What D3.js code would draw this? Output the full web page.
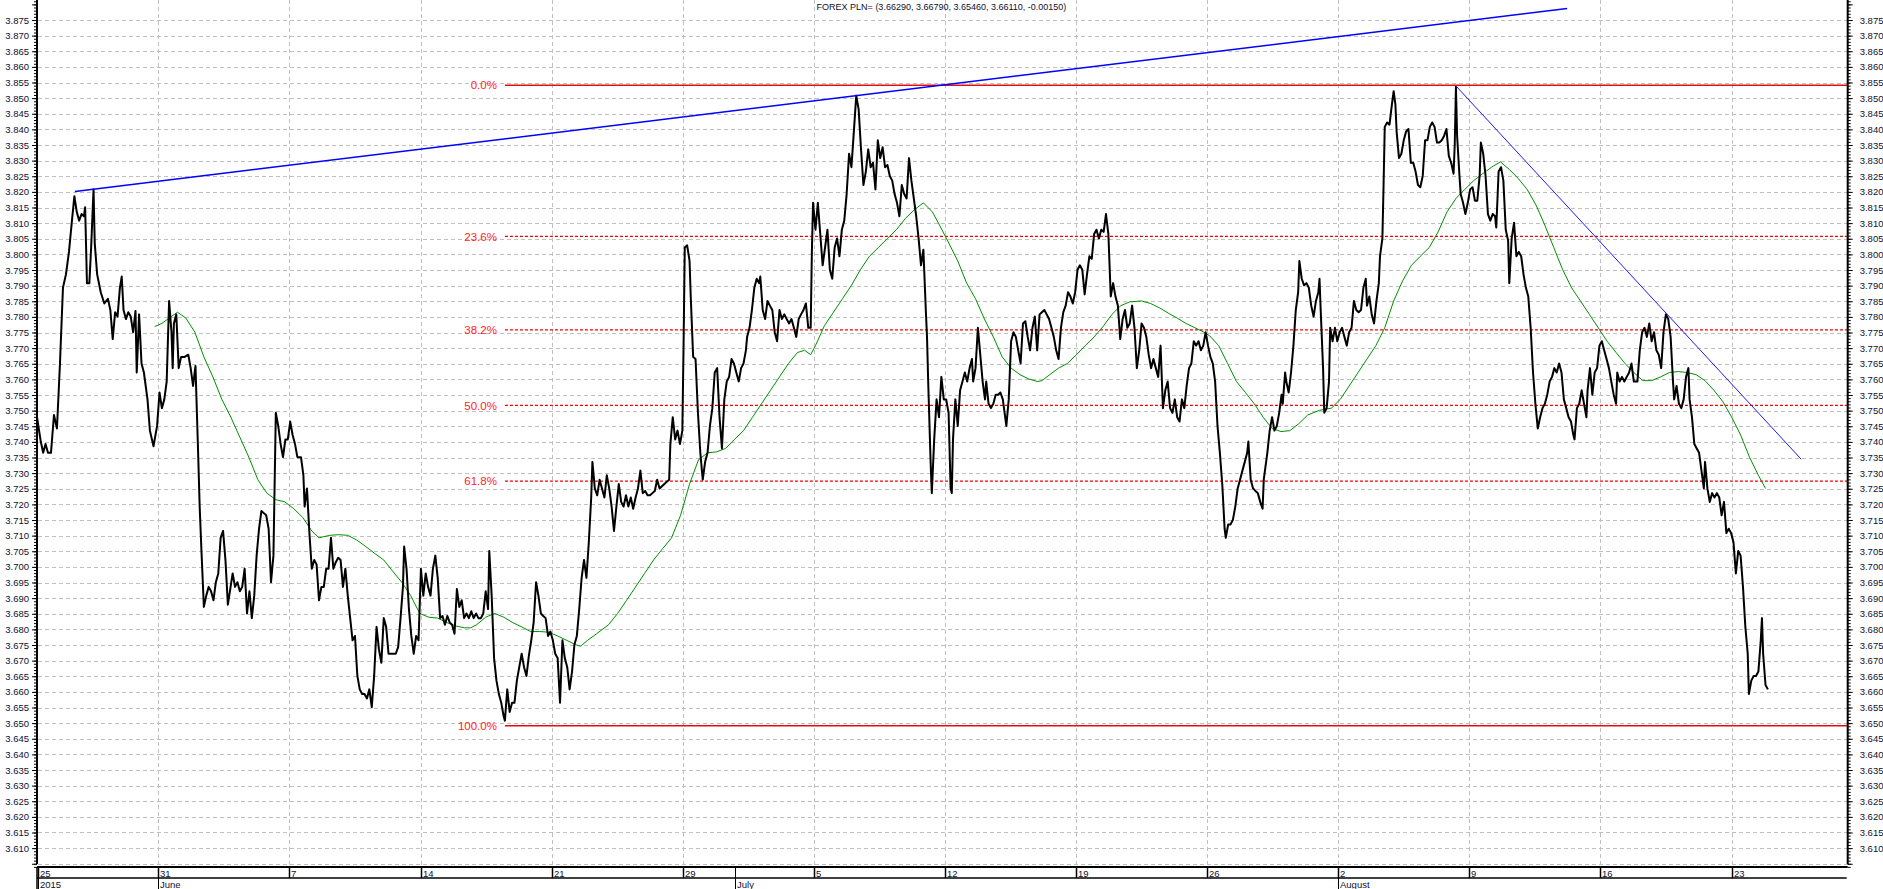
<!DOCTYPE html>
<html>
<head>
<meta charset="utf-8">
<script src="https://cdn.jsdelivr.net/npm/d3@7"></script>
<style>
  html, body { margin: 0; padding: 0; background: #fff; }
  svg { display: block; font-family: "Liberation Sans", Arial, sans-serif; }
</style>
</head>
<body>
<svg id="chart" width="1883" height="889"></svg>
<script>
'use strict';

// x is in trading days counted from Sunday 31 May 2015 (5 per week)
const title = 'FOREX PLN= (3.66290, 3.66790, 3.65460, 3.66110, -0.00150)';

const weekDays = [-4.588, 0, 5, 10, 15, 20, 25, 30, 35, 40, 45, 50, 55, 60];
const weekLabels = ['25', '31', '7', '14', '21', '29', '5', '12', '19', '26', '2', '9', '16', '23'];
const monthDays = [-4.588, 0, 21.98, 45];
const monthLabels = ['2015', 'June', 'July', 'August'];

// fibonacci retracement, drawn from the June low to the August high
const fibLow = [13.22, 3.6492];
const fibHigh = 3.8541;
const fibRatios = [0, 0.236, 0.382, 0.5, 0.618, 1];
const fibLabels = ['0.0%', '23.6%', '38.2%', '50.0%', '61.8%', '100.0%'];

// hand drawn trend lines
const trendUp = [[-3.18, 3.8201], [53.73, 3.8787]];
const trendDown = [[49.49, 3.8539], [62.65, 3.7345]];

// price (hourly close)
const price = [
  [-4.665,3.7501],[-4.482,3.7401],[-4.391,3.7365],[-4.299,3.7393],[-4.208,3.7365],[-4.093,3.7365],[-3.979,3.7486],[-3.865,3.7443],
  [-3.750,3.7651],[-3.636,3.7893],[-3.522,3.7936],[-3.407,3.8008],[-3.293,3.8108],[-3.201,3.8186],[-3.110,3.8136],[-3.019,3.8108],
  [-2.927,3.8129],[-2.836,3.8122],[-2.790,3.8151],[-2.721,3.7908],[-2.630,3.7908],[-2.561,3.8022],[-2.470,3.8208],[-2.424,3.8036],
  [-2.332,3.7936],[-2.195,3.7879],[-2.058,3.7843],[-1.921,3.7858],[-1.829,3.7822],[-1.738,3.7729],[-1.646,3.7815],[-1.555,3.7801],
  [-1.464,3.7893],[-1.395,3.7929],[-1.326,3.7822],[-1.235,3.7793],[-1.143,3.7815],[-1.052,3.7801],[-0.960,3.7751],[-0.869,3.7819],
  [-0.823,3.7622],[-0.732,3.7808],[-0.640,3.7651],[-0.549,3.7622],[-0.412,3.7536],[-0.320,3.7436],[-0.183,3.7386],[-0.046,3.7451],
  [0.046,3.7558],[0.137,3.7508],[0.229,3.7536],[0.320,3.7593],[0.412,3.7851],[0.503,3.7751],[0.549,3.7636],[0.595,3.7779],
  [0.686,3.7808],[0.778,3.7636],[0.869,3.7672],[1.006,3.7672],[1.143,3.7679],[1.235,3.7636],[1.326,3.7579],[1.418,3.7643],
  [1.509,3.7393],[1.578,3.7193],[1.646,3.7051],[1.738,3.6872],[1.829,3.6908],[1.921,3.6936],[2.012,3.6922],[2.104,3.6893],
  [2.195,3.6951],[2.287,3.6979],[2.378,3.7093],[2.470,3.7115],[2.561,3.7022],[2.653,3.6879],[2.744,3.6929],[2.836,3.6979],
  [2.927,3.6936],[3.019,3.6951],[3.110,3.6922],[3.201,3.6936],[3.293,3.6994],[3.384,3.6851],[3.476,3.6922],[3.567,3.6836],
  [3.659,3.6908],[3.750,3.7036],[3.842,3.7122],[3.933,3.7179],[4.025,3.7172],[4.116,3.7165],[4.208,3.7122],[4.299,3.6951],
  [4.391,3.7036],[4.482,3.7493],[4.574,3.7451],[4.665,3.7393],[4.756,3.7351],[4.848,3.7408],[4.939,3.7408],[5.031,3.7465],
  [5.122,3.7422],[5.214,3.7393],[5.305,3.7351],[5.442,3.7351],[5.534,3.7293],[5.580,3.7193],[5.671,3.7251],[5.763,3.7108],
  [5.854,3.6994],[5.946,3.7022],[6.037,3.7008],[6.129,3.6893],[6.220,3.6936],[6.311,3.6936],[6.403,3.6994],[6.494,3.6994],
  [6.586,3.7093],[6.677,3.6994],[6.769,3.7015],[6.860,3.7029],[6.952,3.7022],[7.043,3.6936],[7.135,3.6994],[7.226,3.6908],
  [7.318,3.6836],[7.409,3.6765],[7.501,3.6779],[7.592,3.6651],[7.683,3.6608],[7.775,3.6593],[7.866,3.6593],[7.958,3.6579],
  [8.049,3.6608],[8.141,3.6551],[8.232,3.6651],[8.324,3.6808],[8.415,3.6736],[8.507,3.6693],[8.598,3.6836],[8.690,3.6808],
  [8.781,3.6722],[8.873,3.6722],[9.056,3.6722],[9.147,3.6743],[9.239,3.6836],[9.330,3.6936],[9.376,3.7065],[9.467,3.6994],
  [9.559,3.6865],[9.650,3.6779],[9.742,3.6722],[9.833,3.6779],[9.925,3.6765],[10.016,3.6994],[10.107,3.6908],[10.199,3.6979],
  [10.290,3.6936],[10.382,3.6908],[10.473,3.6994],[10.565,3.7036],[10.656,3.6965],[10.748,3.6836],[10.839,3.6843],[10.931,3.6815],
  [11.022,3.6843],[11.114,3.6822],[11.205,3.6815],[11.297,3.6786],[11.388,3.6929],[11.480,3.6872],[11.571,3.6893],[11.663,3.6836],
  [11.754,3.6851],[11.845,3.6836],[11.937,3.6858],[12.028,3.6836],[12.120,3.6851],[12.211,3.6836],[12.303,3.6836],[12.394,3.6851],
  [12.486,3.6922],[12.577,3.6865],[12.623,3.7051],[12.714,3.6908],[12.806,3.6708],[12.897,3.6636],[12.989,3.6593],[13.080,3.6565],
  [13.172,3.6522],[13.218,3.6508],[13.309,3.6608],[13.400,3.6536],[13.492,3.6565],[13.583,3.6565],[13.675,3.6636],[13.766,3.6679],
  [13.858,3.6722],[13.949,3.6679],[14.041,3.6651],[14.132,3.6715],[14.224,3.6765],[14.315,3.6822],[14.407,3.6951],[14.498,3.6908],
  [14.590,3.6851],[14.681,3.6843],[14.772,3.6836],[14.864,3.6779],[14.955,3.6793],[15.047,3.6765],[15.138,3.6722],[15.230,3.6708],
  [15.321,3.6565],[15.413,3.6765],[15.504,3.6708],[15.596,3.6679],[15.687,3.6608],[15.779,3.6665],[15.870,3.6751],[15.962,3.6779],
  [16.053,3.6865],[16.145,3.6965],[16.236,3.7022],[16.328,3.6965],[16.419,3.7079],[16.510,3.7222],[16.556,3.7336],[16.648,3.7251],
  [16.739,3.7229],[16.831,3.7279],[16.922,3.7251],[17.014,3.7222],[17.105,3.7293],[17.197,3.7251],[17.288,3.7193],[17.379,3.7115],
  [17.471,3.7193],[17.562,3.7265],[17.654,3.7208],[17.745,3.7193],[17.837,3.7229],[17.928,3.7193],[18.020,3.7222],[18.111,3.7186],
  [18.203,3.7222],[18.294,3.7251],[18.386,3.7308],[18.477,3.7236],[18.569,3.7243],[18.660,3.7229],[18.752,3.7229],[18.843,3.7236],
  [18.935,3.7243],[19.026,3.7279],[19.117,3.7251],[19.209,3.7258],[19.300,3.7265],[19.392,3.7272],[19.483,3.7279],[19.529,3.7393],
  [19.620,3.7479],[19.712,3.7408],[19.803,3.7436],[19.895,3.7393],[19.986,3.7436],[20.032,3.7708],[20.078,3.8022],[20.169,3.8029],
  [20.261,3.7979],[20.306,3.7865],[20.398,3.7672],[20.489,3.7665],[20.581,3.7493],[20.672,3.7365],[20.764,3.7279],[20.855,3.7336],
  [20.947,3.7365],[21.038,3.7451],[21.130,3.7508],[21.221,3.7622],[21.313,3.7636],[21.404,3.7479],[21.496,3.7379],[21.587,3.7536],
  [21.679,3.7593],[21.770,3.7608],[21.862,3.7665],[21.953,3.7651],[22.044,3.7622],[22.136,3.7593],[22.227,3.7636],[22.319,3.7651],
  [22.410,3.7693],[22.456,3.7736],[22.548,3.7765],[22.639,3.7822],[22.731,3.7893],[22.822,3.7922],[22.913,3.7908],[22.959,3.7929],
  [23.051,3.7822],[23.142,3.7793],[23.234,3.7851],[23.325,3.7836],[23.417,3.7822],[23.508,3.7751],[23.600,3.7722],[23.691,3.7822],
  [23.782,3.7793],[23.874,3.7808],[23.965,3.7793],[24.057,3.7779],[24.148,3.7793],[24.240,3.7765],[24.331,3.7736],[24.423,3.7793],
  [24.514,3.7808],[24.606,3.7822],[24.697,3.7843],[24.789,3.7765],[24.880,3.7765],[24.926,3.8008],[24.971,3.8165],[25.063,3.8079],
  [25.154,3.8165],[25.246,3.8065],[25.337,3.7965],[25.429,3.8022],[25.520,3.8079],[25.612,3.7951],[25.703,3.7922],[25.795,3.8022],
  [25.886,3.8051],[25.978,3.7994],[26.069,3.8079],[26.161,3.8108],[26.252,3.8193],[26.344,3.8322],[26.435,3.8279],[26.527,3.8393],
  [26.618,3.8508],[26.709,3.8465],[26.801,3.8336],[26.892,3.8222],[26.984,3.8265],[27.075,3.8336],[27.167,3.8279],[27.258,3.8293],
  [27.350,3.8208],[27.441,3.8365],[27.533,3.8308],[27.624,3.8343],[27.716,3.8279],[27.807,3.8286],[27.898,3.8251],[27.990,3.8236],
  [28.081,3.8193],[28.173,3.8165],[28.264,3.8122],[28.356,3.8222],[28.447,3.8193],[28.539,3.8179],[28.630,3.8308],[28.722,3.8236],
  [28.813,3.8179],[28.905,3.8122],[28.996,3.8051],[29.088,3.7965],[29.179,3.8015],[29.271,3.7822],[29.317,3.7736],[29.362,3.7593],
  [29.454,3.7336],[29.500,3.7236],[29.591,3.7408],[29.682,3.7536],[29.774,3.7479],[29.865,3.7608],[29.957,3.7536],[30.048,3.7536],
  [30.140,3.7493],[30.217,3.7251],[30.262,3.7236],[30.308,3.7408],[30.398,3.7536],[30.489,3.7451],[30.579,3.7565],[30.670,3.7593],
  [30.760,3.7622],[30.850,3.7593],[30.941,3.7636],[31.031,3.7665],[31.077,3.7593],[31.167,3.7636],[31.258,3.7765],[31.348,3.7679],
  [31.439,3.7593],[31.529,3.7536],[31.574,3.7593],[31.665,3.7522],[31.755,3.7508],[31.846,3.7522],[31.936,3.7551],[32.027,3.7551],
  [32.117,3.7558],[32.208,3.7536],[32.298,3.7479],[32.343,3.7451],[32.434,3.7536],[32.524,3.7722],[32.615,3.7751],[32.705,3.7736],
  [32.796,3.7693],[32.886,3.7651],[32.977,3.7779],[33.067,3.7786],[33.158,3.7736],[33.248,3.7693],[33.339,3.7765],[33.429,3.7801],
  [33.519,3.7693],[33.610,3.7808],[33.700,3.7815],[33.791,3.7822],[33.881,3.7808],[33.972,3.7793],[34.062,3.7765],[34.153,3.7736],
  [34.243,3.7693],[34.334,3.7665],[34.424,3.7765],[34.515,3.7815],[34.605,3.7836],[34.696,3.7879],[34.786,3.7865],[34.877,3.7843],
  [34.967,3.7879],[35.058,3.7951],[35.148,3.7965],[35.239,3.7951],[35.329,3.7872],[35.419,3.7936],[35.510,3.7994],[35.600,3.7986],
  [35.691,3.8065],[35.781,3.8079],[35.872,3.8051],[35.962,3.8079],[36.053,3.8072],[36.143,3.8129],[36.234,3.8065],[36.324,3.7865],
  [36.415,3.7908],[36.505,3.7865],[36.596,3.7836],[36.686,3.7729],[36.777,3.7793],[36.867,3.7822],[36.958,3.7765],[37.048,3.7779],
  [37.139,3.7836],[37.229,3.7765],[37.319,3.7636],[37.410,3.7693],[37.500,3.7779],[37.591,3.7765],[37.681,3.7736],[37.772,3.7679],
  [37.862,3.7636],[37.953,3.7665],[38.043,3.7636],[38.134,3.7608],[38.224,3.7708],[38.315,3.7508],[38.405,3.7565],[38.496,3.7593],
  [38.586,3.7508],[38.677,3.7493],[38.767,3.7536],[38.858,3.7479],[38.948,3.7465],[39.039,3.7536],[39.129,3.7508],[39.219,3.7579],
  [39.310,3.7636],[39.400,3.7651],[39.491,3.7722],[39.581,3.7708],[39.672,3.7722],[39.762,3.7693],[39.853,3.7708],[39.943,3.7751],
  [40.034,3.7708],[40.124,3.7672],[40.215,3.7651],[40.305,3.7593],[40.396,3.7451],[40.486,3.7365],[40.577,3.7265],[40.667,3.7122],
  [40.712,3.7093],[40.803,3.7136],[40.893,3.7136],[40.984,3.7151],[41.074,3.7193],[41.165,3.7251],[41.255,3.7279],[41.346,3.7308],
  [41.436,3.7336],[41.527,3.7365],[41.572,3.7401],[41.662,3.7279],[41.753,3.7251],[41.843,3.7243],[41.934,3.7236],[42.024,3.7208],
  [42.115,3.7186],[42.160,3.7279],[42.205,3.7308],[42.296,3.7365],[42.386,3.7436],[42.477,3.7479],[42.567,3.7436],[42.658,3.7451],
  [42.748,3.7493],[42.839,3.7551],[42.884,3.7522],[42.974,3.7622],[43.019,3.7593],[43.110,3.7558],[43.200,3.7622],[43.291,3.7708],
  [43.381,3.7822],[43.472,3.7879],[43.517,3.7979],[43.608,3.7922],[43.698,3.7901],[43.789,3.7908],[43.879,3.7893],[43.970,3.7836],
  [44.060,3.7801],[44.150,3.7851],[44.241,3.7879],[44.286,3.7922],[44.331,3.7822],[44.422,3.7636],[44.467,3.7493],[44.558,3.7508],
  [44.648,3.7593],[44.693,3.7765],[44.784,3.7722],[44.874,3.7765],[44.965,3.7722],[45.055,3.7751],[45.146,3.7765],[45.236,3.7736],
  [45.327,3.7708],[45.417,3.7751],[45.508,3.7765],[45.598,3.7851],[45.689,3.7822],[45.779,3.7815],[45.869,3.7822],[45.960,3.7893],
  [46.050,3.7922],[46.096,3.7836],[46.186,3.7865],[46.277,3.7808],[46.367,3.7779],[46.458,3.7851],[46.548,3.7908],[46.593,3.7994],
  [46.684,3.8051],[46.729,3.8222],[46.774,3.8408],[46.865,3.8422],[46.955,3.8415],[47.046,3.8479],[47.114,3.8522],[47.181,3.8479],
  [47.227,3.8393],[47.317,3.8308],[47.408,3.8322],[47.498,3.8365],[47.588,3.8393],[47.679,3.8401],[47.769,3.8293],[47.860,3.8293],
  [47.950,3.8265],[48.041,3.8222],[48.131,3.8215],[48.222,3.8251],[48.312,3.8365],[48.403,3.8365],[48.493,3.8408],[48.584,3.8422],
  [48.674,3.8408],[48.765,3.8358],[48.855,3.8358],[48.946,3.8365],[49.036,3.8379],[49.127,3.8401],[49.217,3.8315],[49.308,3.8293],
  [49.398,3.8258],[49.443,3.8351],[49.489,3.8536],[49.534,3.8379],[49.624,3.8251],[49.670,3.8193],[49.760,3.8165],[49.850,3.8129],
  [49.941,3.8165],[50.031,3.8208],[50.122,3.8215],[50.212,3.8172],[50.303,3.8172],[50.393,3.8251],[50.439,3.8358],[50.529,3.8322],
  [50.619,3.8251],[50.710,3.8129],[50.800,3.8108],[50.891,3.8129],[50.981,3.8122],[51.027,3.8086],[51.117,3.8265],[51.208,3.8279],
  [51.298,3.8236],[51.389,3.8079],[51.479,3.8044],[51.524,3.7908],[51.615,3.8051],[51.705,3.8101],[51.796,3.7994],[51.886,3.8008],
  [51.977,3.7994],[52.067,3.7936],[52.158,3.7893],[52.248,3.7865],[52.339,3.7765],[52.429,3.7622],[52.519,3.7522],[52.610,3.7443],
  [52.700,3.7479],[52.791,3.7508],[52.881,3.7522],[52.972,3.7551],[53.062,3.7593],[53.153,3.7608],[53.243,3.7636],[53.334,3.7622],
  [53.424,3.7651],[53.515,3.7622],[53.605,3.7536],[53.696,3.7508],[53.786,3.7479],[53.877,3.7465],[53.967,3.7422],[54.012,3.7408],
  [54.103,3.7508],[54.193,3.7522],[54.284,3.7565],[54.374,3.7522],[54.465,3.7479],[54.510,3.7565],[54.600,3.7636],[54.691,3.7551],
  [54.781,3.7622],[54.872,3.7636],[54.962,3.7708],[55.053,3.7722],[55.143,3.7693],[55.234,3.7665],[55.324,3.7636],[55.415,3.7593],
  [55.505,3.7551],[55.596,3.7522],[55.641,3.7622],[55.731,3.7593],[55.822,3.7608],[55.912,3.7593],[56.003,3.7608],[56.093,3.7622],
  [56.184,3.7651],[56.274,3.7593],[56.410,3.7593],[56.500,3.7693],[56.591,3.7751],[56.681,3.7765],[56.772,3.7736],[56.862,3.7779],
  [56.953,3.7722],[57.043,3.7751],[57.134,3.7693],[57.224,3.7679],[57.315,3.7636],[57.405,3.7751],[57.496,3.7808],[57.586,3.7793],
  [57.677,3.7736],[57.767,3.7593],[57.812,3.7536],[57.903,3.7579],[57.993,3.7522],[58.084,3.7508],[58.174,3.7536],[58.265,3.7608],
  [58.355,3.7636],[58.400,3.7536],[58.491,3.7479],[58.581,3.7393],[58.672,3.7379],[58.762,3.7365],[58.853,3.7308],[58.943,3.7251],
  [58.989,3.7336],[59.079,3.7251],[59.169,3.7208],[59.260,3.7236],[59.350,3.7222],[59.441,3.7236],[59.531,3.7222],[59.622,3.7165],
  [59.712,3.7208],[59.803,3.7108],[59.893,3.7122],[59.984,3.7108],[60.074,3.7079],[60.165,3.6979],[60.255,3.7051],[60.346,3.7036],
  [60.436,3.6936],[60.527,3.6808],[60.617,3.6722],[60.662,3.6593],[60.753,3.6636],[60.843,3.6651],[60.934,3.6651],[61.024,3.6665],
  [61.115,3.6765],[61.160,3.6836],[61.205,3.6722],[61.296,3.6622],[61.386,3.6608]
];

// moving average (green)
const movingAvg = [
  [-0.137,3.7769],[0.137,3.7779],[0.412,3.7796],[0.732,3.7815],[1.052,3.7796],[1.395,3.7751],[1.738,3.7672],[2.081,3.7608],
  [2.424,3.7536],[2.767,3.7479],[3.110,3.7415],[3.453,3.7351],[3.796,3.7279],[4.139,3.7236],[4.482,3.7215],[4.825,3.7208],
  [5.168,3.7186],[5.511,3.7158],[5.854,3.7115],[6.129,3.7093],[6.540,3.7101],[6.883,3.7103],[7.226,3.7101],[7.569,3.7086],
  [7.912,3.7065],[8.255,3.7043],[8.598,3.7022],[8.941,3.6986],[9.284,3.6951],[9.627,3.6908],[9.970,3.6851],[10.313,3.6839],
  [10.656,3.6836],[10.999,3.6822],[11.342,3.6811],[11.685,3.6805],[11.914,3.6805],[12.143,3.6815],[12.486,3.6839],[12.829,3.6851],
  [13.172,3.6839],[13.515,3.6822],[13.858,3.6808],[14.201,3.6793],[14.544,3.6793],[14.887,3.6791],[15.230,3.6779],[15.573,3.6765],
  [15.916,3.6751],[16.099,3.6746],[16.373,3.6765],[16.716,3.6786],[17.174,3.6815],[17.517,3.6851],[17.860,3.6893],[18.203,3.6936],
  [18.546,3.6979],[18.889,3.7022],[19.232,3.7058],[19.575,3.7093],[19.918,3.7165],[20.261,3.7265],[20.604,3.7343],[20.947,3.7365],
  [21.290,3.7368],[21.633,3.7379],[21.976,3.7408],[22.319,3.7436],[22.662,3.7479],[23.005,3.7522],[23.348,3.7565],[23.691,3.7608],
  [24.034,3.7651],[24.377,3.7686],[24.651,3.7693],[24.880,3.7679],[25.063,3.7708],[25.406,3.7772],[25.749,3.7815],[26.092,3.7858],
  [26.435,3.7901],[26.778,3.7951],[27.121,3.7994],[27.464,3.8022],[27.807,3.8051],[28.150,3.8079],[28.493,3.8115],[28.836,3.8143],
  [29.179,3.8165],[29.522,3.8136],[29.810,3.8091],[30.149,3.8036],[30.489,3.7979],[30.828,3.7908],[31.167,3.7858],[31.506,3.7793],
  [31.846,3.7736],[32.185,3.7672],[32.524,3.7636],[32.864,3.7615],[33.203,3.7601],[33.542,3.7593],[33.700,3.7596],[33.995,3.7615],
  [34.334,3.7636],[34.673,3.7651],[35.012,3.7679],[35.352,3.7708],[35.691,3.7736],[36.030,3.7769],[36.370,3.7808],[36.709,3.7836],
  [37.048,3.7848],[37.500,3.7851],[37.840,3.7843],[38.179,3.7829],[38.518,3.7812],[38.858,3.7796],[39.197,3.7779],[39.536,3.7765],
  [39.875,3.7751],[40.102,3.7739],[40.441,3.7708],[40.780,3.7651],[41.120,3.7593],[41.459,3.7558],[41.798,3.7522],[42.137,3.7479],
  [42.477,3.7443],[42.816,3.7433],[43.155,3.7436],[43.494,3.7458],[43.834,3.7486],[44.286,3.7501],[44.739,3.7508],[45.078,3.7536],
  [45.417,3.7579],[45.756,3.7622],[46.096,3.7665],[46.435,3.7708],[46.774,3.7765],[47.114,3.7851],[47.453,3.7915],[47.792,3.7965],
  [48.131,3.7994],[48.471,3.8022],[48.810,3.8072],[49.149,3.8136],[49.489,3.8179],[49.828,3.8208],[50.167,3.8236],[50.506,3.8258],
  [50.846,3.8279],[51.185,3.8296],[51.524,3.8272],[51.863,3.8243],[52.203,3.8208],[52.542,3.8158],[52.881,3.8093],[53.220,3.8022],
  [53.560,3.7951],[53.899,3.7893],[54.238,3.7851],[54.578,3.7808],[54.917,3.7765],[55.256,3.7722],[55.596,3.7686],[55.935,3.7651],
  [56.274,3.7622],[56.613,3.7596],[56.953,3.7596],[57.292,3.7608],[57.631,3.7622],[57.970,3.7625],[58.310,3.7622],[58.649,3.7615],
  [58.989,3.7596],[59.328,3.7565],[59.667,3.7529],[60.006,3.7479],[60.346,3.7422],[60.685,3.7351],[61.024,3.7293],[61.296,3.7251]
];

const svg = d3.select('#chart');
const height = +svg.attr('height');
const pLeft = 37, pRight = 1847.7, pTop = 0, pBottom = 867;

const xScale = d3.scaleLinear().domain([-4.626, 64.43]).range([pLeft, pRight]);
const yScale = d3.scaleLinear().domain([3.60396, 3.8814]).range([pBottom, pTop]);

const majorTicks = d3.range(3.605, 3.8806, 0.005).map((v) => +v.toFixed(3));
const minorTicks = d3.range(3.604, 3.8812, 0.001).map((v) => +v.toFixed(3));
const fmt = d3.format('.3f');
const labelFmt = (v) => (v >= 3.6095 && v <= 3.8755 ? fmt(v) : '');

// grid
const grid = svg.append('g').attr('stroke', '#c0c0c0').attr('stroke-dasharray', '4,3');
grid.selectAll('line.h')
  .data(majorTicks.filter((v) => v <= 3.8755))
  .join('line')
    .attr('class', 'h')
    .attr('x1', pLeft + 1).attr('x2', pRight)
    .attr('y1', (d) => Math.round(yScale(d)) + 0.5)
    .attr('y2', (d) => Math.round(yScale(d)) + 0.5);
grid.selectAll('line.v')
  .data(weekDays.slice(1))
  .join('line')
    .attr('class', 'v')
    .attr('x1', (d) => Math.round(xScale(d)) + 0.5)
    .attr('x2', (d) => Math.round(xScale(d)) + 0.5)
    .attr('y1', pTop).attr('y2', pBottom);

svg.append('clipPath').attr('id', 'plot')
  .append('rect').attr('x', pLeft).attr('y', pTop).attr('width', pRight - pLeft).attr('height', pBottom - pTop);
const plot = svg.append('g').attr('clip-path', 'url(#plot)');

// fibonacci levels
const fibX = xScale(fibLow[0]);
const fibLevels = fibRatios.map((r) => fibHigh - r * (fibHigh - fibLow[1]));
const isEdge = (i) => i === 0 || i === fibLevels.length - 1;
plot.selectAll('line.fib')
  .data(fibLevels)
  .join('line')
    .attr('class', 'fib')
    .attr('x1', fibX).attr('x2', pRight)
    .attr('y1', (d) => yScale(d)).attr('y2', (d) => yScale(d))
    .attr('stroke', (d, i) => (isEdge(i) ? '#e01010' : '#f00000'))
    .attr('stroke-width', (d, i) => (isEdge(i) ? 1.5 : 1.3))
    .attr('stroke-dasharray', (d, i) => (isEdge(i) ? null : '3,2'));
svg.selectAll('text.fib')
  .data(fibLevels)
  .join('text')
    .attr('class', 'fib')
    .attr('x', fibX - 8)
    .attr('y', (d) => yScale(d))
    .attr('dy', '0.36em')
    .attr('text-anchor', 'end')
    .attr('fill', '#ff2424')
    .style('font-size', '11.5px')
    .text((d, i) => fibLabels[i]);

const line = d3.line().x((d) => xScale(d[0])).y((d) => yScale(d[1]));

// moving average
plot.append('path')
  .datum(movingAvg)
  .attr('d', line)
  .attr('fill', 'none')
  .attr('stroke', '#009000')
  .attr('stroke-width', 1);

// price
plot.append('path')
  .datum(price)
  .attr('d', line)
  .attr('fill', 'none')
  .attr('stroke', '#000')
  .attr('stroke-width', 2)
  .attr('stroke-linejoin', 'round');

// trend lines
plot.append('path').datum(trendUp).attr('d', line)
  .attr('fill', 'none').attr('stroke', '#0000ff').attr('stroke-width', 1.5);
plot.append('path').datum(trendDown).attr('d', line)
  .attr('fill', 'none').attr('stroke', '#1a1aff').attr('stroke-width', 1);

// value axes
const drawAxis = (axisFn, x, labelSide) => {
  svg.append('g')
    .attr('transform', `translate(${x},0)`)
    .call(axisFn(yScale).tickValues(minorTicks).tickSize(3).tickFormat(''))
    .call((g) => g.select('.domain').remove())
    .call((g) => g.selectAll('line').attr('stroke', '#000'));
  svg.append('g')
    .attr('transform', `translate(${x},0)`)
    .call(axisFn(yScale).tickValues(majorTicks).tickSize(5).tickPadding(labelSide === 'left' ? 3 : 7).tickFormat(labelFmt))
    .call((g) => g.select('.domain').remove())
    .call((g) => g.selectAll('line').attr('stroke', '#000'))
    .call((g) => g.selectAll('text').attr('fill', '#101030').style('font-size', '9.5px')
      .style('font-family', '"Liberation Sans", Arial, sans-serif'));
  svg.append('line')
    .attr('x1', x).attr('x2', x).attr('y1', pTop).attr('y2', pBottom - 3)
    .attr('stroke', '#000').attr('stroke-width', 2);
};
drawAxis(d3.axisLeft, pLeft, 'left');
drawAxis(d3.axisRight, pRight, 'right');

// date axis
const dateTop = 867, dateMid = 878;
svg.append('line').attr('x1', pLeft).attr('x2', pRight).attr('y1', dateTop).attr('y2', dateTop)
  .attr('stroke', '#000').attr('stroke-width', 2);
svg.append('line').attr('x1', pLeft).attr('x2', pRight - 1).attr('y1', dateMid).attr('y2', dateMid)
  .attr('stroke', '#000').attr('stroke-width', 1.5);
svg.append('line').attr('x1', pLeft).attr('x2', pLeft).attr('y1', dateTop).attr('y2', height)
  .attr('stroke', '#000').attr('stroke-width', 1.5);

const weeks = svg.append('g');
weeks.selectAll('line')
  .data(weekDays)
  .join('line')
    .attr('x1', (d) => Math.round(xScale(d)) + 0.5)
    .attr('x2', (d) => Math.round(xScale(d)) + 0.5)
    .attr('y1', dateTop).attr('y2', dateMid)
    .attr('stroke', '#000').attr('stroke-width', 1.5);
weeks.selectAll('text')
  .data(weekDays)
  .join('text')
    .attr('x', (d) => Math.round(xScale(d)) + 2)
    .attr('y', dateMid - 1.5)
    .attr('fill', '#101030')
    .style('font-size', '9.5px')
    .text((d, i) => weekLabels[i]);

const months = svg.append('g');
months.selectAll('line')
  .data(monthDays)
  .join('line')
    .attr('x1', (d) => Math.round(xScale(d)) + 0.5)
    .attr('x2', (d) => Math.round(xScale(d)) + 0.5)
    .attr('y1', dateTop).attr('y2', height)
    .attr('stroke', '#000').attr('stroke-width', 1);
months.selectAll('text')
  .data(monthDays)
  .join('text')
    .attr('x', (d) => Math.round(xScale(d)) + 2)
    .attr('y', height - 1)
    .attr('fill', '#101030')
    .style('font-size', '9.5px')
    .text((d, i) => monthLabels[i]);

// title
svg.append('text')
  .attr('x', 941.5)
  .attr('y', 10)
  .attr('text-anchor', 'middle')
  .attr('fill', '#101030')
  .style('font-size', '9px')
  .text(title);
</script>
</body>
</html>
